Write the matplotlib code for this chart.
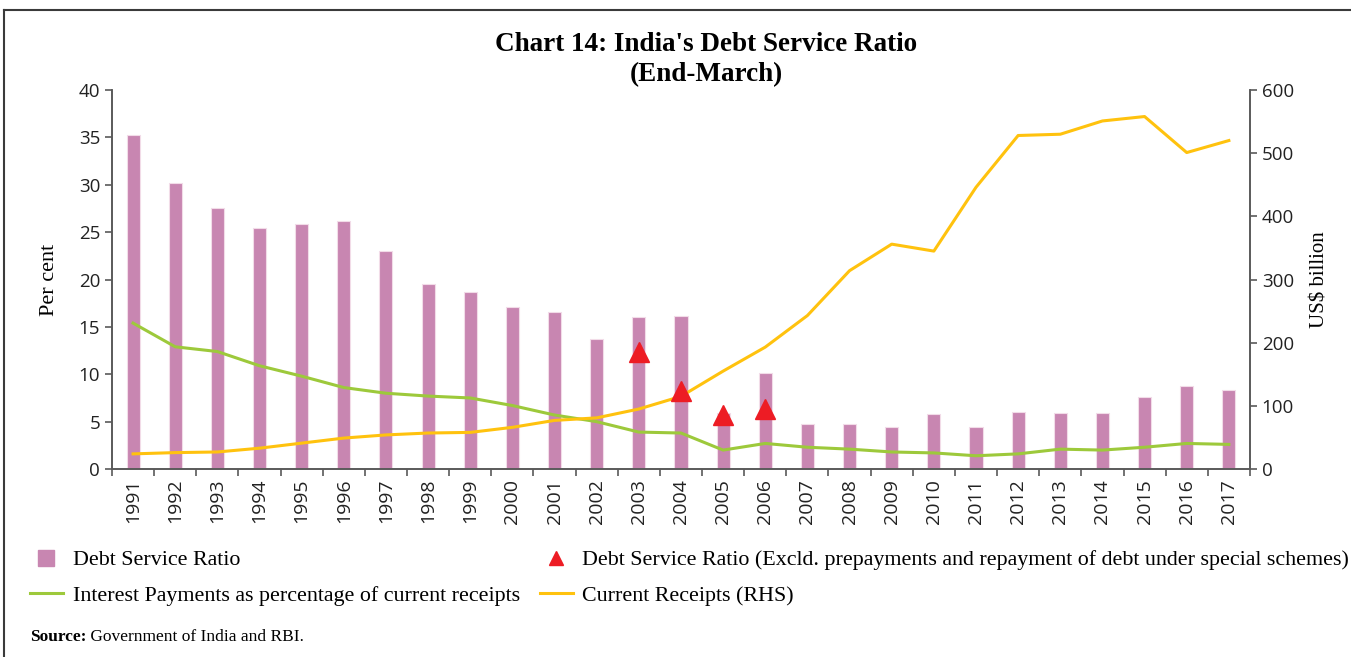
import numpy as np
import matplotlib
matplotlib.use("Agg")
import matplotlib.pyplot as plt
from matplotlib.lines import Line2D

# fiscal years (end-March)
years = [str(y) for y in range(1991, 2018)]

# debt service ratio, per cent
dsr = [35.3, 30.2, 27.5, 25.4, 25.9, 26.2, 23.0, 19.5, 18.7, 17.1, 16.6, 13.7,
       16.0, 16.1, 5.9, 10.1, 4.7, 4.8, 4.4, 5.8, 4.4, 6.0, 5.9, 5.9, 7.6, 8.8, 8.3]

# debt service ratio excluding prepayments / special schemes
dsr_excl_years = ["2003", "2004", "2005", "2006"]
dsr_excl = [12.4, 8.2, 5.7, 6.3]

# interest payments as % of current receipts
interest = [15.4, 12.9, 12.4, 10.9, 9.8, 8.6, 8.0, 7.7, 7.5, 6.7, 5.7, 5.0,
            3.9, 3.8, 2.0, 2.7, 2.3, 2.1, 1.8, 1.7, 1.4, 1.6, 2.1, 2.0, 2.3, 2.7, 2.6]

# current receipts, US$ billion
receipts = [24, 26, 27, 33, 41, 49, 54, 57, 58, 66, 77, 81,
            95, 115, 155, 193, 243, 314, 356, 345, 446, 528, 530, 551, 558, 501, 520]

pink = "#C886B1"
green = "#9DC93B"
yellow = "#FFC20E"
red = "#ED1C24"
axis_grey = "#5A5A5A"

serif = "Liberation Serif"
sans = "Open Sans"

x = np.arange(len(years))
x_excl = [years.index(y) for y in dsr_excl_years]

fig = plt.figure(figsize=(13.51, 6.57), dpi=100)
ax = fig.add_axes([0.0829, 0.2861, 0.8423, 0.5769])
ax2 = ax.twinx()

# bars and interest line on the left axis
ax.bar(x, dsr, width=0.31, color=pink, edgecolor="#F2DCE8", linewidth=0.8, zorder=2)
ax.plot(x, interest, color=green, linewidth=2.2, zorder=3)

# receipts on the right axis, triangles drawn above it using the left scale
ax2.plot(x, receipts, color=yellow, linewidth=2.2, zorder=2)
ax2.plot(x_excl, dsr_excl, linestyle="none", marker="^", markersize=15,
         color=red, transform=ax.transData, zorder=4, clip_on=False)

ax.set_xlim(-0.5, len(years) - 0.5)
ax.set_ylim(0, 40)
ax2.set_ylim(0, 600)
ax.set_yticks(np.arange(0, 41, 5))
ax2.set_yticks(np.arange(0, 601, 100))

ax.set_xticks(x)
ax.set_xticklabels(years, rotation=90, fontsize=14, fontfamily=sans, color="#222222")
ax.set_xticks(np.arange(-0.5, len(years), 1), minor=True)
ax.tick_params(axis="x", which="major", length=0, pad=7)
ax.tick_params(axis="x", which="minor", length=5, width=1.2, color=axis_grey, direction="out")
ax.tick_params(axis="y", length=5, width=1.2, color=axis_grey, labelsize=13.5, labelcolor="#222222")
ax2.tick_params(axis="y", length=5, width=1.2, color=axis_grey, labelsize=13.5, labelcolor="#222222")
for lab in ax.get_yticklabels() + ax2.get_yticklabels():
    lab.set_fontfamily(sans)

for a in (ax, ax2):
    a.spines["top"].set_visible(False)
    for s in ("left", "right", "bottom"):
        a.spines[s].set_color(axis_grey)
        a.spines[s].set_linewidth(1.2)

ax.set_ylabel("Per cent", fontsize=16, fontfamily=serif, labelpad=14)
ax2.set_ylabel(r"US\$ billion", fontsize=15, fontfamily=serif, labelpad=12)

# title
fig.text(0.5226, 0.932, "Chart 14: India's Debt Service Ratio", ha="center", va="center",
         fontsize=19.5, fontweight="bold", fontfamily=serif)
fig.text(0.5226, 0.886, "(End-March)", ha="center", va="center",
         fontsize=19.5, fontweight="bold", fontfamily=serif)

# legend
handles = [
    Line2D([], [], linestyle="none", marker="s", markersize=12, color=pink),
    Line2D([], [], color=green, linewidth=2.2),
    Line2D([], [], linestyle="none", marker="^", markersize=10, color=red),
    Line2D([], [], color=yellow, linewidth=2.2),
]
labels = [
    "Debt Service Ratio",
    "Interest Payments as percentage of current receipts",
    "Debt Service Ratio (Excld. prepayments and repayment of debt under special schemes)",
    "Current Receipts (RHS)",
]
fig.legend(handles, labels, ncol=2, loc="upper left", bbox_to_anchor=(0.0222, 0.163),
           frameon=False, borderpad=0, borderaxespad=0, handlelength=1.5,
           handletextpad=0.45, columnspacing=0.9, labelspacing=0.7,
           prop={"family": serif, "size": 15.8})

# source note
src = fig.text(0.0222, 0.030, "Source:", ha="left", va="center",
               fontsize=12.5, fontweight="bold", fontfamily=serif)
ax.annotate(" Government of India and RBI.", xy=(1, 0), xycoords=src,
            ha="left", va="bottom", fontsize=12.5, fontfamily=serif)

# outer frame (top and left edges)
fig.add_artist(Line2D([4 / 1351, 1], [1 - 10 / 657, 1 - 10 / 657], color="#3A3A3A",
                      linewidth=1.5, transform=fig.transFigure))
fig.add_artist(Line2D([4 / 1351, 4 / 1351], [0, 1 - 10 / 657], color="#3A3A3A",
                      linewidth=1.5, transform=fig.transFigure))

fig.savefig("out.png", dpi=100)
